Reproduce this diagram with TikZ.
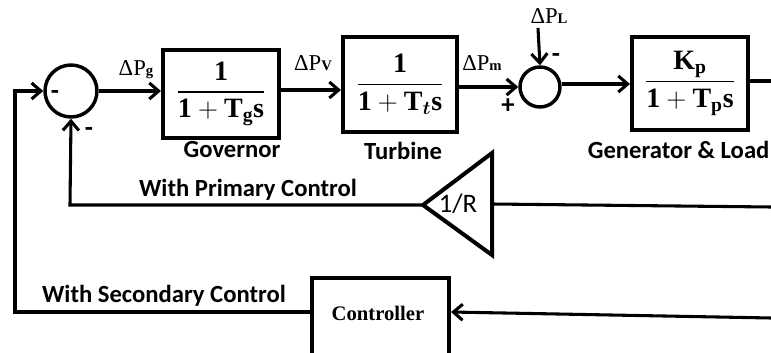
\documentclass[tikz,border=0pt]{standalone}
\usepackage{amsmath}
\usepackage{fontspec}
\setmainfont{Liberation Serif}
\newfontfamily\calibri{Carlito}
\usetikzlibrary{arrows.meta}
\tikzset{
  conn/.style={line width=2.3pt},
  arr/.style={conn,-{Straight Barb[length=7pt,width=12pt,line width=2.3pt]}},
  tfbox/.style={draw,line width=3pt,inner sep=0pt},
  sumnode/.style={circle,draw,line width=2.6pt,inner sep=0pt},
  blocklbl/.style={font=\calibri\bfseries\fontsize{18.5}{20}\selectfont},
  siglbl/.style={font=\fontsize{17}{18}\selectfont},
  signlbl/.style={font=\calibri\bfseries\fontsize{20}{20}\selectfont}
}
\newcommand{\sm}[1]{{\fontsize{11}{12}\selectfont\bfseries #1}}
\newcommand{\tfA}{\fontsize{21}{24}\selectfont$\displaystyle\frac{\mathbf{1}}{\mathbf{1+T}_{\mathbf{g}}\mathbf{s}}$}
\newcommand{\tfB}{\fontsize{21}{24}\selectfont$\displaystyle\frac{\mathbf{1}}{\mathbf{1+T}_{\boldsymbol{t}}\mathbf{s}}$}
\newcommand{\tfC}{\fontsize{21}{24}\selectfont$\displaystyle\frac{\mathbf{K_p}}{\mathbf{1+T_p s}}$}
\begin{document}
\begin{tikzpicture}[x=0.75pt,y=-0.75pt]
\useasboundingbox (0,0) rectangle (771,353);
\clip (0,0) rectangle (771,353);
% nodes
\node[sumnode,minimum size=39pt] (s1) at (71,91) {};
\node[tfbox,minimum width=87pt,minimum height=66pt] (gov) at (221,94) {\tfA};
\node[tfbox,minimum width=85.5pt,minimum height=71pt] (tur) at (400,84.5) {\tfB};
\node[sumnode,minimum size=30pt] (s2) at (540,87) {};
\node[tfbox,minimum width=87pt,minimum height=70pt] (gen) at (690,83.5) {\tfC};
\node[tfbox,minimum width=102.75pt,minimum height=72pt,anchor=north] (ctrl) at (380.5,276) {};
\node[font=\bfseries\fontsize{15.5}{17}\selectfont] (ctrltxt) at (378,313) {Controller};
% gain 1/R triangle
\coordinate (rtip) at (423,205);
\coordinate (rtop) at (492,153);
\coordinate (rbot) at (492,255);
\coordinate (rbase) at (492,204);
\draw[line width=3pt,line join=miter] (rtip) -- (rtop) -- (rbot) -- cycle;
\node[font=\calibri\fontsize{20}{20}\selectfont] (rlbl) at (458,204) {1/R};
% free ends
\coordinate (pl) at (538,28);
\coordinate (outR) at (771,81);
\coordinate (fbR) at (771,207);
\coordinate (scR) at (771,318);
\coordinate (lc1) at (15,312);
\coordinate (lc2) at (15,91);
\coordinate (pc) at (70,205);
% connectors
\draw[arr] (s1.east) -- (gov.west |- s1.east);
\draw[arr] (gov.east |- 0,90) -- (tur.west |- 0,90);
\draw[arr] (tur.east |- s2.west) -- (s2.west);
\draw[arr] (pl) -- (s2.north);
\draw[arr] (s2.east |- 0,84) -- (gen.west |- 0,84);
\draw[conn] (gen.east |- outR) -- (outR);
\draw[conn] (fbR) -- (rbase);
\draw[arr] (rtip) -- (pc) -- (s1.south);
\draw[arr] (scR) -- (ctrl.east |- 0,312);
\draw[arr] (ctrl.west |- 0,312) -- (lc1) -- (lc2) -- (s1.west);
% labels
\node[siglbl] (lpg) at (136,70) {ΔP\sm{g}};
\node[siglbl] (lpv) at (313,63) {ΔP\sm{V}};
\node[siglbl] (lpm) at (482,63) {ΔP\sm{m}};
\node[siglbl] (lpl) at (549,16) {ΔP\sm{L}};
\node[signlbl] (m1) at (55,95) {-};
\node[signlbl] (m2) at (89,132) {-};
\node[signlbl] (p2) at (508,106) {+};
\node[signlbl] (m3) at (556,58) {-};
\node[blocklbl] (lgov) at (232,150) {Governor};
\node[blocklbl] (ltur) at (403,151) {Turbine};
\node[blocklbl,anchor=east,inner sep=1pt] (lgen) at (771,150) {Generator \& Load};
\node[blocklbl] (lprim) at (248,190) {With Primary Control};
\node[blocklbl] (lsec) at (164,296) {With Secondary Control};
\end{tikzpicture}
\end{document}
